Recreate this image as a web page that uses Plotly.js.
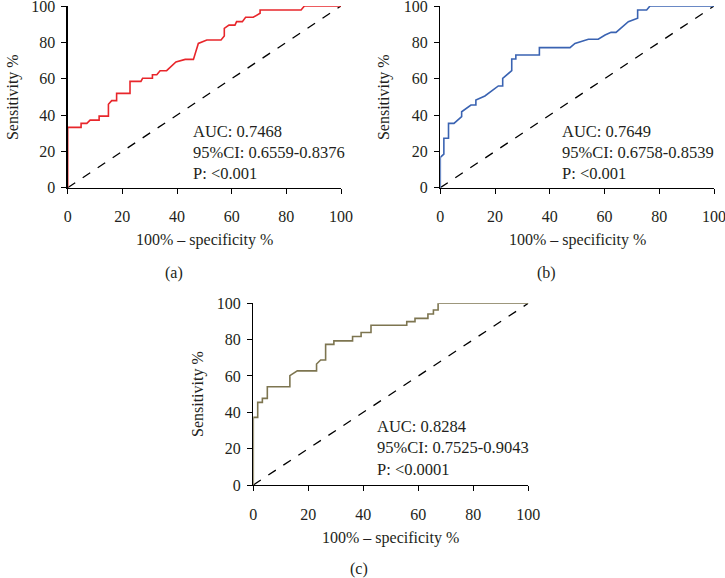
<!DOCTYPE html>
<html><head><meta charset="utf-8">
<script src="https://cdn.plot.ly/plotly-3.0.1.min.js"></script>
<style>html,body{margin:0;padding:0;background:#fff}#chart{width:725px;height:578px}</style>
</head><body><div id="chart"></div>
<script>
// Panel (a)
const xA = [0,0,4.9,4.9,7.0,8.2,11.5,11.5,14.9,14.9,16.1,17.9,17.9,22.8,22.8,26.8,27.4,31,31,32.6,33.8,36.2,39.6,43,46,47.8,50.9,56.1,57.3,57.3,59,61.2,61.8,63.9,65.1,67.9,70.4,70.4,85.4,86.6,100];
const yA = [0,33.2,33.2,35.4,35.4,37.2,37.2,39.4,39.4,45.9,47.9,47.9,51.9,51.9,58.5,58.5,60.2,60.2,62.2,62.2,64.4,64.4,69.2,70.6,70.6,79.4,81.3,81.3,83.5,87.7,89.5,89.5,91.4,91.4,93.8,93.8,96,97.8,97.8,100,100];
// Panel (b)
const xB = [0,0,1.3,1.3,3.0,3.0,5.0,7.8,7.8,11.2,13.0,13.0,16.3,21.2,22.8,22.8,26.1,26.1,27.6,27.6,36.2,36.2,47.4,49.2,54.1,57.7,60.2,62.4,64.2,68.7,72.1,72.1,75.4,76.6,100];
const yB = [0,16.7,18.5,27.2,27.2,35.4,35.4,39.1,41.8,45.5,45.5,48.3,50.5,56,56,60.2,64.4,70.8,70.8,73,73,77.1,77.1,79.4,81.7,81.7,84,85.5,85.5,91.4,93.3,97.8,97.8,100,100];
// Panel (c)
const xC = [0,0,1.6,1.6,3.3,3.3,5.1,5.1,13.3,13.3,16,23,23,24.5,26.3,26.3,29.3,29.3,36.1,36.1,39.2,39.2,42.8,42.8,55.8,55.8,58.8,58.8,63.5,63.5,65.5,65.5,67.2,67.2,100];
const yC = [0,37.2,37.2,45.5,45.5,47.7,47.7,54.1,54.1,60.2,62.8,62.8,66.6,68.8,68.8,77.4,77.4,79.3,79.3,81.7,81.7,83.9,83.9,87.9,87.9,89.9,89.9,91.7,91.7,94.1,94.1,96.3,96.3,100,100];
const refX = [0,100];
const refY = [0,100];
const tickVals = [0,20,40,60,80,100];
const statsA = ["AUC: 0.7468","95%CI: 0.6559-0.8376","P: <0.001"];
const statsB = ["AUC: 0.7649","95%CI: 0.6758-0.8539","P: <0.001"];
const statsC = ["AUC: 0.8284","95%CI: 0.7525-0.9043","P: <0.0001"];
const xTitle = "100% – specificity %";
const yTitle = "Sensitivity %";
const panelLabels = ["(a)","(b)","(c)"];

const W=725,H=578;
const px=v=>v/W, py=v=>1-v/H;
const FONT="Liberation Serif, Times New Roman, serif";
const TXT="#231f20";

function curve(x,y,color,xa,ya){return {x:x,y:y,xaxis:xa,yaxis:ya,mode:'lines',line:{color:color,width:1.6},cliponaxis:false,hoverinfo:'skip',showlegend:false};}
function diag(xa,ya){return {x:refX,y:refY,xaxis:xa,yaxis:ya,mode:'lines',line:{color:'#000',width:1.3,dash:'dash'},cliponaxis:false,hoverinfo:'skip',showlegend:false};}

const data=[
  diag('x','y'),curve(xA,yA,'#e8262b','x','y'),
  diag('x2','y2'),curve(xB,yB,'#3a63b2','x2','y2'),
  diag('x3','y3'),curve(xC,yC,'#7d7550','x3','y3')
];

function ax(dom,anchor,isX){
  return {domain:dom,anchor:anchor,range:[0,100],tickvals:tickVals,ticks:'outside',ticklen:5,tickwidth:1,tickcolor:'#000',
    showline:true,linecolor:'#000',linewidth:1.3,showgrid:false,zeroline:false,
    tickfont:{family:FONT,size:16,color:TXT},fixedrange:true,ticklabeloverflow:'allow',
    ticklabelstandoff: isX?9:3};
}
const layout={
  width:W,height:H,margin:{l:0,r:0,t:0,b:0},paper_bgcolor:'#fff',plot_bgcolor:'#fff',
  showlegend:false,
  xaxis:ax([px(67.7),px(341)],'y',true), yaxis:ax([py(187.7),py(6)],'x',false),
  xaxis2:ax([px(440.3),px(714)],'y2',true), yaxis2:ax([py(187.7),py(6)],'x2',false),
  xaxis3:ax([px(253.3),px(528.3)],'y3',true), yaxis3:ax([py(485),py(303.3)],'x3',false),
  annotations:[]
};
function txt(t,x,y,opts,size){layout.annotations.push(Object.assign({text:t,x:px(x),y:py(y),xref:'paper',yref:'paper',showarrow:false,
  font:{family:FONT,size:size||16,color:TXT},xanchor:'center',yanchor:'middle'},opts||{}));}
// stats
[[statsA,191,[131.7,152.7,173.3]],[statsB,560,[131.7,152.7,173.3]],[statsC,375,[426.7,447.7,469]]].forEach(s=>{
  s[0].forEach((t,i)=>txt(t,s[1],s[2][i],{xanchor:'left'},16.5));
});
// axis titles
txt(xTitle,204.3,240); txt(xTitle,577.2,240); txt(xTitle,390.8,538);
txt(yTitle,13.3,96.8,{textangle:-90}); txt(yTitle,383.3,96.8,{textangle:-90}); txt(yTitle,198,394,{textangle:-90});
// panel labels
txt(panelLabels[0],174,273); txt(panelLabels[1],546,273); txt(panelLabels[2],359,568.5);

Plotly.newPlot('chart',data,layout,{staticPlot:true,displayModeBar:false});
</script></body></html>
